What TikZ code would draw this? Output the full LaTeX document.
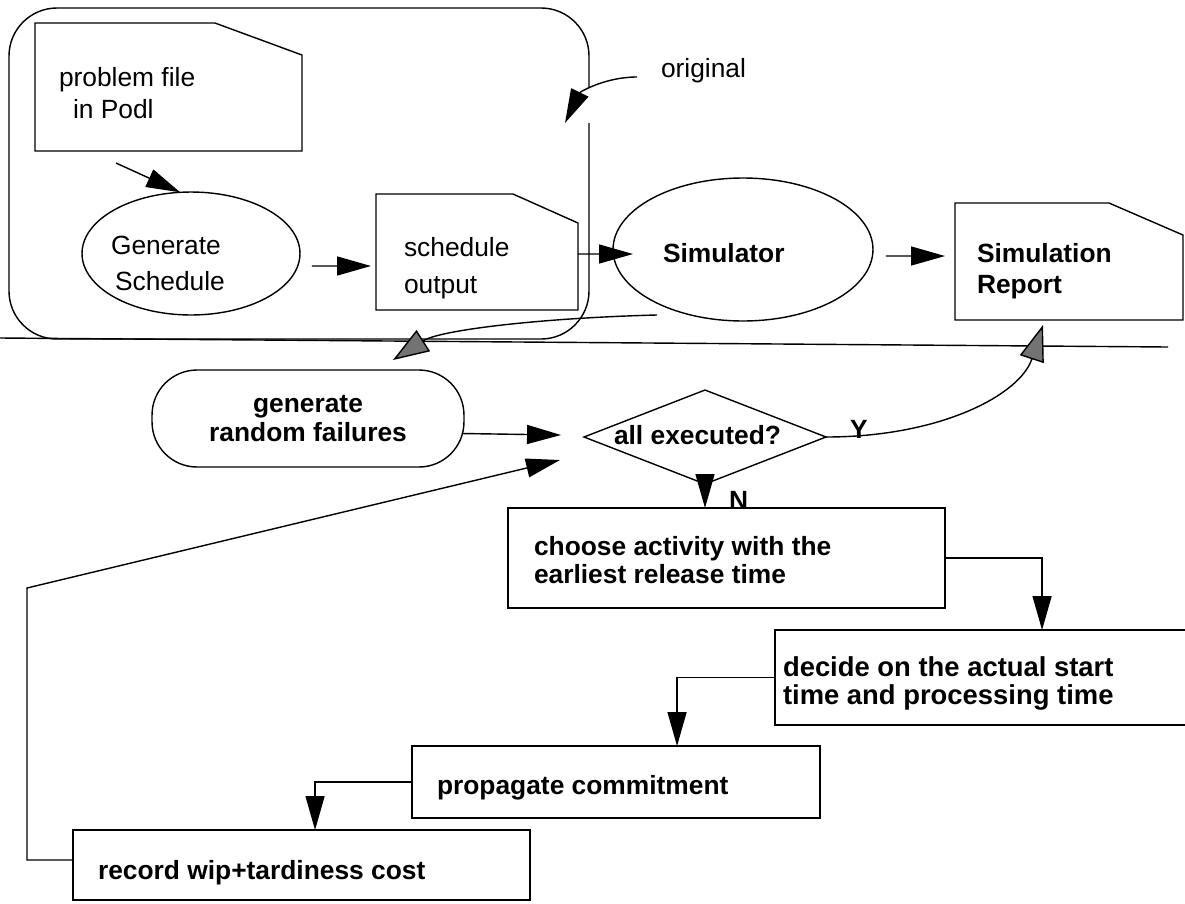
\documentclass[tikz,border=0pt]{standalone}
\usepackage{fontspec}
\setmainfont{Liberation Sans}
\usetikzlibrary{arrows.meta,calc,shapes.geometric}

% outline of a document symbol (dog-eared top right corner) around an area node
\newcommand\docoutline[3]{%
  \draw (#1.south west) -- (#1.north west) -- ($(#1.north east)+(-#2,0)$)
        -- ($(#1.north east)+(0,#3)$) -- (#1.south east) -- cycle;}

\begin{document}
\begin{tikzpicture}[x=0.02cm,y=-0.02cm,line width=0.8pt,
  every node/.style={inner sep=0pt,outer sep=0pt},
  lbl/.style={font=\fontsize{15}{18}\selectfont,anchor=base west},
  blbl/.style={font=\fontsize{15}{18}\selectfont\bfseries,anchor=base west},
  area/.style={rectangle,draw=none},
  box/.style={rectangle,draw},
  oval/.style={ellipse,draw},
  arr/.style={-{Triangle[length=0.68cm,width=0.38cm]}},
  grayarr/.style={-{Triangle[length=0.72cm,width=0.5cm,fill=black!55]}}]

\useasboundingbox (0,0) rectangle (1185,903);
\fill[white] (0,0) rectangle (1185,903);
\clip (0,0) rectangle (1185,903);

% ---------- original planning stage ----------
\draw[rounded corners=0.96cm] (589,88) -- (589,8) -- (9,8) -- (9,339) -- (589,339) -- (589,123);

\node[area,minimum width=5.34cm,minimum height=2.56cm] (pf) at (168.5,87) {};
\docoutline{pf}{87}{32}
\node[lbl] (pft1) at (59,86) {problem file};
\node[lbl] (pft2) at (73,118) {in Podl};

\node[oval,minimum width=4.36cm,minimum height=2.46cm] (gen) at (191,253.5) {};
\node[lbl] (gent1) at (111,254) {Generate};
\node[lbl] (gent2) at (115,290) {Schedule};

\node[area,minimum width=4.04cm,minimum height=2.32cm] (so) at (477,252) {};
\docoutline{so}{65}{29}
\node[lbl] (sot1) at (404,256) {schedule};
\node[lbl] (sot2) at (404,293) {output};

\node[oval,minimum width=5.2cm,minimum height=2.86cm] (sim) at (743,249.5) {};
\node[blbl] (simt) at (663,262) {Simulator};

\node[area,minimum width=4.56cm,minimum height=2.34cm] (rep) at (1069,261.5) {};
\docoutline{rep}{74}{32}
\node[blbl] (rept1) at (977,262) {Simulation};
\node[blbl] (rept2) at (977,293) {Report};

\node[lbl] (orig) at (661,77) {original};
\coordinate (otip) at (565,123);
\coordinate (pfout) at (116,163);

% separator
\coordinate (sepl) at (0,338);
\coordinate (sepr) at (1168,347);
\draw (sepl) -- (sepr);

% ---------- simulation loop ----------
\node[draw,rounded corners=0.9cm,minimum width=6.24cm,minimum height=1.94cm,
      align=center,font=\fontsize{15}{17}\selectfont\bfseries] (grf) at (308,418.5)
      {generate\\random failures};

\node[diamond,draw,minimum width=4.84cm,minimum height=1.88cm] (dia) at (705,437) {};
\node[blbl] (diat) at (614,444) {all executed?};
\node[blbl] (ylab) at (850,438) {Y};
\node[blbl] (nlab) at (729,509) {N};

\node[box,minimum width=8.74cm,minimum height=2cm] (choose) at (726.5,558) {};
\node[blbl] (ct1) at (534,555) {choose activity with the};
\node[blbl] (ct2) at (534,583) {earliest release time};

\node[box,minimum width=8.5cm,minimum height=1.9cm] (dec) at (987.5,677.5) {};
\node[blbl,font=\fontsize{15.6}{18}\selectfont\bfseries] (dt1) at (783,676) {decide on the actual start};
\node[blbl,font=\fontsize{15.6}{18}\selectfont\bfseries] (dt2) at (783,704) {time and processing time};

\node[box,minimum width=8.16cm,minimum height=1.44cm] (prop) at (616,782) {};
\node[blbl] (pt) at (437,794) {propagate commitment};

\node[box,minimum width=9.14cm,minimum height=1.4cm] (rec) at (301.5,865) {};
\node[blbl] (rt) at (98,879) {record wip+tardiness cost};

\coordinate (gtip) at (393,360);
\coordinate (lcorner) at (27,588);
\coordinate (ltip) at (560,460);

% ---------- connectors ----------
\draw[arr] (pfout) -- (gen.100);
\draw[arr] ($(gen.east)+(12,12.5)$) -- ($(so.west)+(-5,14)$);
\draw[arr] ($(so.east)+(0,2)$) -- ($(sim.west)+(20,4.5)$);
\draw[arr] ($(sim.east)+(13,6.5)$) -- ($(rep.west)+(-10,-5.5)$);
\draw[arr] ($(orig.base west)+(-24,0)$) .. controls (605,77) and (580,92) .. (otip);

\draw[grayarr] ($(sim.south)+(-86,-6)$) .. controls (540,318) and (440,330) .. (gtip);
\draw[arr] ($(grf.east)+(-2,15)$) -- ($(dia.west)+(-23,-2)$);
\draw[grayarr] (dia.east) .. controls (940,437) and (1020,395) .. ($(rep.south)+(-26,5)$);

\draw[arr] (dia.south) -- (dia.south |- choose.north);
\draw[arr] (choose.east) -| ($(dec.north west)+(267,0)$);
\draw[arr] (dec.west) -| ($(prop.north west)+(265,0)$);
\draw[arr] (prop.west) -| ($(rec.north west)+(242,0)$);
\draw[arr] ($(rec.west)+(0,-5)$) -| (lcorner) -- (ltip);

\end{tikzpicture}
\end{document}
